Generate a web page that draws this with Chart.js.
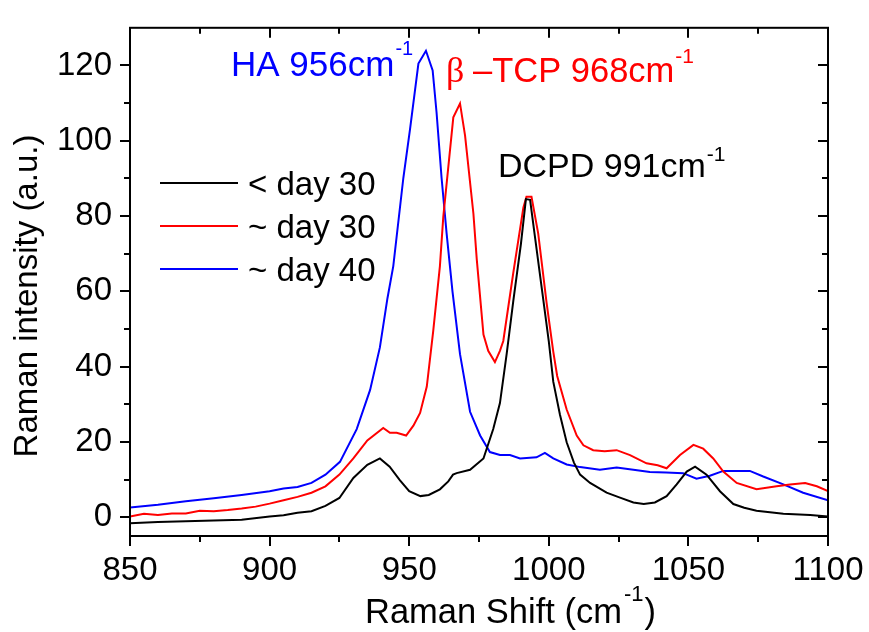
<!DOCTYPE html>
<html>
<head>
<meta charset="utf-8">
<script src="https://cdn.jsdelivr.net/npm/chart.js@4.4.1/dist/chart.umd.min.js"></script>
<style>
  html, body { margin: 0; padding: 0; background: #fff; }
  #wrap { width: 869px; height: 632px; }
</style>
</head>
<body>
<div id="wrap"><canvas id="c" width="869" height="632"></canvas></div>
<script>
// Raman spectra of the phosphate band region (850–1100 cm-1)

const seriesLabels = ['< day 30', '~ day 30', '~ day 40'];
const seriesColors = ['#000000', '#ff0000', '#0000ff'];

// < day 30 (DCPD dominated)
const shiftBlack = [850, 860, 870, 880, 890, 900, 905, 910, 915, 920, 925, 930, 935, 939.5, 943, 946.7,
  950, 954, 957, 961, 964, 965.7, 967, 971.8, 976.6, 980.1, 982.5, 984.9, 987.3, 990, 991.8, 993.3,
  995, 997.5, 1000, 1001.6, 1004, 1006.4, 1009, 1011.2, 1014.8, 1020.7, 1025.5, 1030.3, 1034, 1038,
  1042.2, 1045.8, 1049.4, 1052.4, 1056.5, 1061.3, 1066.1, 1070, 1074.4, 1084, 1093.6, 1100];
const intensityBlack = [-1.6, -1.3, -1.1, -0.9, -0.7, 0.2, 0.5, 1.2, 1.6, 3.0, 5.1, 10.4, 13.9, 15.6, 13.4, 9.8,
  6.9, 5.6, 5.9, 7.4, 9.5, 11.3, 11.7, 12.6, 15.6, 23.4, 30.3, 43.3, 57.5, 72.5, 84.5, 84.3,
  74.7, 60.7, 46.7, 36.0, 27.2, 19.9, 14.5, 11.3, 9.1, 6.5, 5.2, 3.9, 3.5, 3.9,
  5.6, 8.7, 12.1, 13.4, 11.3, 6.9, 3.5, 2.5, 1.7, 0.9, 0.6, 0.2];

// ~ day 30 (beta-TCP appears)
const shiftRed = [850, 855, 860, 865, 870, 875, 880, 885, 890, 895, 900, 905, 910, 915, 920, 925, 930, 935,
  940.7, 943.1, 945.5, 948.9, 951.5, 953.9, 956.3, 958.6, 961, 962.2, 965.8, 968.2, 970, 973, 974.2,
  976.6, 978.3, 980.7, 982.5, 983.7, 987.3, 990.9, 992, 993.8, 996.2, 999.2, 1001.6, 1003, 1006.4,
  1010, 1012.4, 1015.9, 1020, 1024.3, 1029.1, 1035, 1039, 1042.2, 1047, 1051.8, 1055.3, 1058.9,
  1062.5, 1067.3, 1074.4, 1081.6, 1086.4, 1091.8, 1096, 1100];
const intensityRed = [0.2, 0.9, 0.6, 1.0, 1.0, 1.7, 1.6, 1.9, 2.3, 2.8, 3.6, 4.5, 5.4, 6.5, 8.2, 11.3, 15.6, 20.4,
  23.7, 22.4, 22.4, 21.7, 24.3, 27.7, 34.7, 49.4, 66.7, 79.7, 106.2, 109.9, 101.4, 80.6, 68.5,
  48.5, 44.2, 41.2, 44.2, 46.8, 65.0, 82.3, 85.1, 85.1, 75.4, 57.0, 44.0, 37.5, 28.6,
  21.7, 19.1, 17.8, 17.5, 17.8, 16.5, 14.3, 13.8, 13.0, 16.5, 19.2, 18.2, 15.6,
  12.1, 9.1, 7.4, 8.2, 8.7, 9.1, 8.2, 6.9];

// ~ day 40 (HA dominated)
const shiftBlue = [850, 860, 870, 880, 890, 900, 905, 910, 915, 920, 925.2, 931.2, 936, 939.5, 942.2, 944.3,
  947.9, 950.3, 953.3, 956, 958.4, 959.8, 961.6, 963.4, 965.5, 968.2, 971.8, 975.4, 978.9, 982.5,
  986.1, 989.7, 995.6, 998.6, 1001.6, 1006.4, 1011.2, 1018.3, 1024.3, 1030.3, 1036.2, 1042, 1048.1,
  1052.9, 1057.7, 1062.5, 1072, 1076.8, 1084, 1091.1, 1100];
const intensityBlue = [2.6, 3.3, 4.2, 5.0, 5.9, 6.9, 7.6, 8.0, 9.1, 11.3, 14.7, 23.4, 33.8, 45.1, 58.1, 66.7,
  90.1, 103.1, 120.5, 123.9, 118.7, 107.5, 90.1, 75.4, 60.0, 43.3, 28.0, 21.7, 17.3, 16.5,
  16.5, 15.6, 15.9, 17.1, 15.6, 14.0, 13.3, 12.6, 13.2, 12.6, 12.0, 11.9, 11.7,
  10.2, 11.0, 12.3, 12.3, 10.8, 8.7, 6.5, 4.5];

// Axis ticks
const xMajorTicks = [850, 900, 950, 1000, 1050, 1100];
const xMinorTicks = [875, 925, 975, 1025, 1075];
const yMajorTicks = [0, 20, 40, 60, 80, 100, 120];
const yMinorTicks = [10, 30, 50, 70, 90, 110];

const FONT = '"Liberation Sans", Arial, Helvetica, sans-serif';

function toPoints(xs, ys) { return xs.map((x, i) => ({ x: x, y: ys[i] })); }

function mkDataset(idx, xs, ys) {
  return {
    label: seriesLabels[idx],
    data: toPoints(xs, ys),
    borderColor: seriesColors[idx],
    backgroundColor: seriesColors[idx],
    borderWidth: 2,
    pointRadius: 0,
    tension: 0,
    fill: false
  };
}

// Text followed by a raised "-1" superscript; returns the x after the superscript
function supText(ctx, text, sup, x, y, size, supSize, supRise, color, lead) {
  const gap = lead || 1;
  ctx.fillStyle = color;
  ctx.textAlign = 'left';
  ctx.textBaseline = 'alphabetic';
  ctx.font = size + 'px ' + FONT;
  ctx.fillText(text, x, y);
  const w = ctx.measureText(text).width;
  ctx.font = supSize + 'px ' + FONT;
  ctx.fillText(sup, x + w + gap, y - supRise);
  return x + w + gap + ctx.measureText(sup).width;
}

const decorations = {
  id: 'decorations',
  afterDraw(chart) {
    const ctx = chart.ctx;
    const a = chart.chartArea;
    const xs = chart.scales.x, ys = chart.scales.y;
    ctx.save();

    // frame
    ctx.strokeStyle = '#000';
    ctx.lineWidth = 2;
    ctx.strokeRect(a.left, a.top, a.right - a.left, a.bottom - a.top);

    // ticks: outward on bottom/left, inward on top/right
    ctx.beginPath();
    const xt = xMajorTicks.map(v => [v, 10]).concat(xMinorTicks.map(v => [v, 6]));
    xt.forEach(([v, len]) => {
      const px = Math.round(xs.getPixelForValue(v));
      ctx.moveTo(px, a.bottom); ctx.lineTo(px, a.bottom + len);
      ctx.moveTo(px, a.top); ctx.lineTo(px, a.top + len);
    });
    const yt = yMajorTicks.map(v => [v, 10]).concat(yMinorTicks.map(v => [v, 6]));
    yt.forEach(([v, len]) => {
      const py = Math.round(ys.getPixelForValue(v));
      ctx.moveTo(a.left, py); ctx.lineTo(a.left - len, py);
      ctx.moveTo(a.right, py); ctx.lineTo(a.right - len, py);
    });
    ctx.stroke();

    // legend
    chart.data.datasets.forEach((ds, i) => {
      const ly = 183 + i * 43;
      ctx.strokeStyle = ds.borderColor;
      ctx.lineWidth = 2;
      ctx.beginPath();
      ctx.moveTo(160, ly); ctx.lineTo(238, ly);
      ctx.stroke();
      ctx.fillStyle = '#000';
      ctx.font = '33px ' + FONT;
      ctx.textAlign = 'left';
      ctx.textBaseline = 'alphabetic';
      ctx.fillText(ds.label, 248, ly + 12);
    });

    // peak annotations
    supText(ctx, 'HA 956cm', '-1', 231, 76, 35, 20, 21, '#0000ff');
    ctx.fillStyle = '#ff0000';
    ctx.font = '36px "Liberation Serif", "Times New Roman", serif';
    ctx.textBaseline = 'alphabetic';
    ctx.fillText('\u03B2', 446, 82);
    supText(ctx, '\u2013TCP 968cm', '-1', 473, 82, 34.5, 21, 19, '#ff0000');
    supText(ctx, 'DCPD 991cm', '-1', 498, 177, 34, 21, 16, '#000000');

    // x-axis title
    const endX = supText(ctx, 'Raman Shift (cm', '-1', 365, 623, 34.5, 22, 22, '#000000', 2);
    ctx.font = '34.5px ' + FONT;
    ctx.fillText(')', endX + 1, 623);

    // y-axis title
    ctx.translate(37, 296);
    ctx.rotate(-Math.PI / 2);
    ctx.textAlign = 'center';
    ctx.textBaseline = 'alphabetic';
    ctx.fillStyle = '#000';
    ctx.font = '33px ' + FONT;
    ctx.fillText('Raman intensity (a.u.)', 0, 0);

    ctx.restore();
  }
};

new Chart(document.getElementById('c'), {
  type: 'line',
  data: {
    datasets: [
      mkDataset(0, shiftBlack, intensityBlack),
      mkDataset(1, shiftRed, intensityRed),
      mkDataset(2, shiftBlue, intensityBlue)
    ]
  },
  options: {
    responsive: false,
    animation: false,
    devicePixelRatio: 1,
    layout: { padding: { top: 16, right: 41, left: 0, bottom: 0 } },
    plugins: { legend: { display: false }, tooltip: { enabled: false } },
    scales: {
      x: {
        type: 'linear',
        min: 850, max: 1100,
        afterBuildTicks: s => { s.ticks = xMajorTicks.map(v => ({ value: v })); },
        afterFit: s => { s.height = 96; },
        grid: { display: false, drawTicks: true, tickLength: 10 },
        border: { display: false },
        ticks: {
          color: '#000', font: { family: FONT, size: 33 }, padding: 5,
          maxRotation: 0, autoSkip: false, callback: v => String(v)
        }
      },
      y: {
        type: 'linear',
        min: -5, max: 130,
        afterBuildTicks: s => { s.ticks = yMajorTicks.map(v => ({ value: v })); },
        afterFit: s => { s.width = 130; },
        grid: { display: false, drawTicks: true, tickLength: 10 },
        border: { display: false },
        ticks: {
          color: '#000', font: { family: FONT, size: 33 }, padding: 8,
          autoSkip: false, callback: v => String(v)
        }
      }
    }
  },
  plugins: [decorations]
});
</script>
</body>
</html>
